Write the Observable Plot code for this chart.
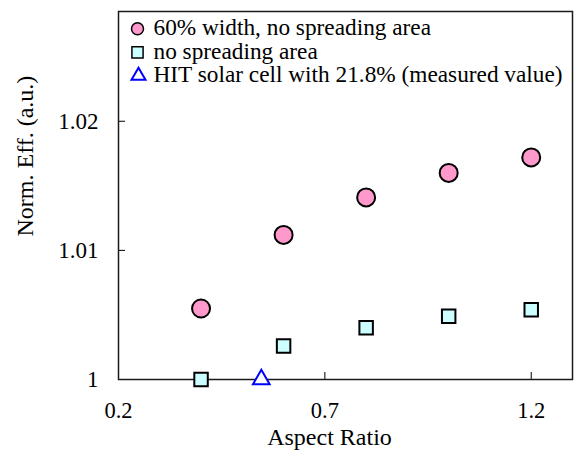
<!DOCTYPE html>
<html>
<head>
<meta charset="utf-8">
<script src="https://cdn.jsdelivr.net/npm/d3@7"></script>
<script src="https://cdn.jsdelivr.net/npm/@observablehq/plot@0.6"></script>
<style>
  html, body { margin: 0; padding: 0; background: #fff; }
  #chart svg { display: block; }
</style>
</head>
<body>
<div id="chart"></div>
<script>
// ---- data ----
const aspectRatios = [0.4, 0.6, 0.8, 1.0, 1.2];
const eff60Width = [1.0055, 1.0112, 1.0141, 1.0160, 1.0172];
const effNoSpreading = [1.0000, 1.0026, 1.0040, 1.0049, 1.0054];
const hitX = [0.546];
const hitY = [1.0000];
const xTicks = [0.2, 0.7, 1.2];
const yTicks = [1, 1.01, 1.02];
const legendLabels = [
  "60% width, no spreading area",
  "no spreading area",
  "HIT solar cell with 21.8% (measured value)"
];
const xLabel = "Aspect Ratio";
const yLabel = "Norm. Eff. (a.u.)";

const circles = aspectRatios.map((x, i) => ({x, y: eff60Width[i]}));
const squares = aspectRatios.map((x, i) => ({x, y: effNoSpreading[i]}));
const triangles = hitX.map((x, i) => ({x, y: hitY[i]}));

const FONT = "'Liberation Serif', 'Times New Roman', serif";
const W = 580, H = 455;
const mL = 118, mR = 8, mT = 11, mB = 76;
const plotH = H - mT - mB, plotW = W - mL - mR;

const legendRowY = [17.3, 40.8, 64.3];

const chart = Plot.plot({
  width: W,
  height: H,
  marginLeft: mL,
  marginRight: mR,
  marginTop: mT,
  marginBottom: mB,
  style: {fontFamily: FONT, fontSize: "23px", color: "#000", background: "#fff"},
  x: {domain: [0.2, 1.3]},
  y: {domain: [1, 1.0285]},
  marks: [
    Plot.axisX({ticks: xTicks, tickSize: 0, tickPadding: 23, tickFormat: d => String(d), label: null, fontSize: 22.5, fontFamily: FONT}),
    Plot.axisY({ticks: yTicks, tickSize: 0, tickPadding: 20, tickFormat: d => String(d), label: null, fontSize: 23, fontFamily: FONT}),
    Plot.ruleX(xTicks.slice(1), {x: d => d, insetTop: plotH - 7, stroke: "#000", strokeWidth: 1}),
    Plot.ruleY(yTicks.slice(1), {y: d => d, insetRight: plotW - 7, stroke: "#000", strokeWidth: 1}),
    Plot.frame({stroke: "#1a1a1a", strokeWidth: 1.5}),
    Plot.dot(circles, {x: "x", y: "y", r: 9, fill: "#FF99CC", stroke: "#000", strokeWidth: 2}),
    Plot.dot(squares, {x: "x", y: "y", symbol: "square", r: 7.6, fill: "#CCFFFF", stroke: "#000", strokeWidth: 2}),
    Plot.dot(triangles, {x: "x", y: "y", symbol: "triangle", r: 6.2, fill: "#fff", stroke: "#0000FF", strokeWidth: 2}),
    // legend
    Plot.dot([legendLabels[0]], {frameAnchor: "top-left", dx: 19, dy: legendRowY[0], r: 6, fill: "#FF99CC", stroke: "#000", strokeWidth: 1.5}),
    Plot.dot([legendLabels[1]], {frameAnchor: "top-left", dx: 19, dy: legendRowY[1], symbol: "square", r: 6.3, fill: "#CCFFFF", stroke: "#000", strokeWidth: 1.5}),
    Plot.dot([legendLabels[2]], {frameAnchor: "top-left", dx: 20, dy: legendRowY[2], symbol: "triangle", r: 5.2, fill: "#fff", stroke: "#0000FF", strokeWidth: 2}),
    ...legendLabels.map((t, i) => Plot.text([t], {frameAnchor: "top-left", text: d => d, dx: 35, dy: legendRowY[i] - 1, textAnchor: "start", lineAnchor: "middle", fontSize: 23.3, fontFamily: FONT, fill: "#000"})),
    Plot.text([xLabel], {frameAnchor: "bottom", text: d => d, dx: -16, dy: 65, fontSize: 24, fontFamily: FONT, fill: "#000"}),
    Plot.text([yLabel], {frameAnchor: "left", text: d => d, rotate: -90, dx: -93, dy: 41, fontSize: 24, fontFamily: FONT, fill: "#000"})
  ]
});
document.getElementById("chart").appendChild(chart);
</script>
</body>
</html>
